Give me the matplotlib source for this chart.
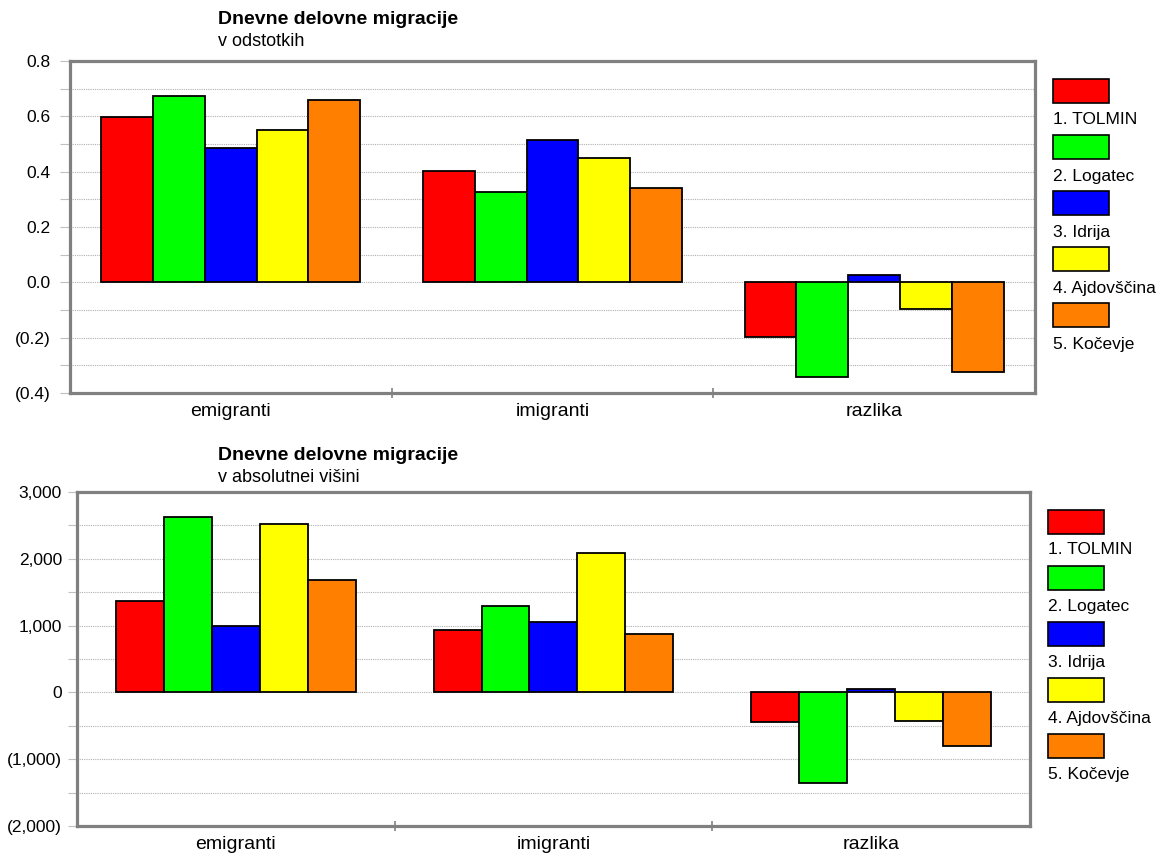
#!/usr/bin/env python3
"""Daily commuting migrations: shares and absolute numbers, five municipalities."""

import matplotlib

matplotlib.use("Agg")

import matplotlib.pyplot as plt
import numpy as np
from matplotlib.patches import Rectangle
from matplotlib.ticker import FuncFormatter, MultipleLocator

plt.rcParams["font.family"] = ["Liberation Sans", "DejaVu Sans"]

categories = ["emigranti", "imigranti", "razlika"]
municipalities = ["1. TOLMIN", "2. Logatec", "3. Idrija", "4. Ajdov\u0161\u010dina", "5. Ko\u010devje"]
colors = ["#ff0000", "#00ff00", "#0000ff", "#ffff00", "#ff8000"]

# shares, one list per municipality: emigranti, imigranti, razlika
share_tolmin = [0.598, 0.402, -0.197]
share_logatec = [0.674, 0.326, -0.342]
share_idrija = [0.486, 0.514, 0.028]
share_ajdovscina = [0.551, 0.451, -0.098]
share_kocevje = [0.659, 0.341, -0.323]

# absolute numbers
abs_tolmin = [1362, 928, -444]
abs_logatec = [2620, 1287, -1352]
abs_idrija = [988, 1048, 55]
abs_ajdovscina = [2515, 2081, -428]
abs_kocevje = [1677, 868, -803]

shares = [share_tolmin, share_logatec, share_idrija, share_ajdovscina, share_kocevje]
absolute = [abs_tolmin, abs_logatec, abs_idrija, abs_ajdovscina, abs_kocevje]

GRAY = "#808080"


def paren_fmt(decimals, every):
    def fmt(v, _pos):
        k = round(v / every)
        if k % 2:
            return ""
        if abs(v) < 1e-9:
            return "0" if decimals == 0 else f"{0:.{decimals}f}"
        s = f"{abs(v):,.{decimals}f}"
        return f"({s})" if v < 0 else s
    return fmt


def draw_panel(ax, series, bar_w, ylim, step, decimals, tick_len, pad):
    x = np.arange(len(categories))
    n = len(series)
    for i, (vals, col) in enumerate(zip(series, colors)):
        offs = (i - (n - 1) / 2) * bar_w
        ax.bar(x + offs, vals, width=bar_w, color=col, edgecolor="black", linewidth=1.3, zorder=3)
    ax.set_xlim(-0.5, len(categories) - 0.5)
    ax.set_ylim(*ylim)
    ax.yaxis.set_major_locator(MultipleLocator(step))
    ax.yaxis.set_major_formatter(FuncFormatter(paren_fmt(decimals, step)))
    ax.grid(axis="y", color="#b0b0b0", linestyle=(0, (1, 1)), linewidth=0.8, zorder=0)
    ax.set_xticks(x)
    ax.set_xticklabels(categories, fontsize=14)
    ax.set_xticks(np.arange(0.5, len(categories) - 0.5), minor=True)
    ax.tick_params(axis="x", which="major", length=0, pad=7)
    ax.tick_params(axis="x", which="minor", length=7, width=1.2, color=GRAY, direction="inout")
    ax.tick_params(axis="y", length=tick_len, width=0.8, color="#c0c0c0", labelsize=12.5, pad=pad)
    for sp in ax.spines.values():
        sp.set_color(GRAY)
        sp.set_linewidth(2.3)


fig = plt.figure(figsize=(11.68, 8.55), dpi=100)
ax1 = fig.add_axes([0.0599, 0.5404, 0.8262, 0.3883])
ax2 = fig.add_axes([0.0659, 0.0339, 0.8159, 0.3906])

draw_panel(ax1, shares, 0.161, (-0.4, 0.8), 0.1, 1, 7.2, 7.0)
draw_panel(ax2, absolute, 0.151, (-2000, 3000), 500, 0, 6.5, 4.3)

W, H = 1168, 855


def fig_text(px, py, s, **kw):
    fig.text(px / W, 1 - py / H, s, **kw)


fig_text(218, 20, "Dnevne delovne migracije", fontsize=14, fontweight="bold", va="center")
fig_text(218, 41, "v odstotkih", fontsize=13, va="center")
fig_text(218, 455, "Dnevne delovne migracije", fontsize=14, fontweight="bold", va="center")
fig_text(218, 477, "v absolutnei vi\u0161ini", fontsize=13, va="center")


def draw_legend(left, top, label_off):
    for i, (name, col) in enumerate(zip(municipalities, colors)):
        y0 = top + i * 56
        fig.patches.append(Rectangle((left / W, 1 - (y0 + 24) / H), 56 / W, 24 / H,
                                     transform=fig.transFigure, facecolor=col,
                                     edgecolor="black", linewidth=1.2))
        fig_text(left, y0 + label_off, name, fontsize=12.5, va="center")


draw_legend(1053, 79, 41)
draw_legend(1048, 510, 40)

fig.savefig("out.png", dpi=100)
